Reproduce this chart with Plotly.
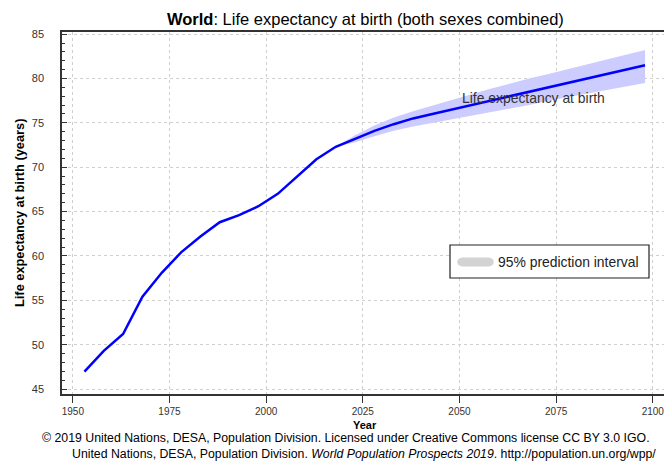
import plotly.graph_objects as go

# ---- data ----
years = [1953, 1958, 1963, 1968, 1973, 1978, 1983, 1988, 1993, 1998,
         2003, 2008, 2013, 2018, 2023, 2028, 2033, 2038, 2043, 2048,
         2053, 2058, 2063, 2068, 2073, 2078, 2083, 2088, 2093, 2098]
life_exp = [46.96, 49.3, 51.2, 55.4, 58.1, 60.4, 62.2, 63.8, 64.6, 65.6,
            67.0, 68.9, 70.9, 72.3, 73.2, 74.1, 74.85, 75.5, 76.0, 76.5,
            77.0, 77.5, 78.0, 78.5, 79.0, 79.5, 80.0, 80.5, 81.0, 81.5]
pi_years = [2018, 2023, 2028, 2033, 2038, 2043, 2048, 2053, 2058, 2063,
            2068, 2073, 2078, 2083, 2088, 2093, 2098]
pi_upper = [72.3, 73.6, 74.7, 75.6, 76.3, 76.95, 77.6, 78.25, 78.85, 79.4,
            80.0, 80.5, 81.05, 81.6, 82.15, 82.7, 83.2]
pi_lower = [72.3, 72.8, 73.5, 74.1, 74.6, 75.0, 75.4, 75.8, 76.2, 76.6,
            77.0, 77.5, 77.9, 78.35, 78.75, 79.1, 79.5]
x_ticks = [1950, 1975, 2000, 2025, 2050, 2075, 2100]
y_ticks = [45, 50, 55, 60, 65, 70, 75, 80, 85]

W, H = 664, 461
ML, MR, MT, MB = 62, 0, 32, 67
PW, PH = W - ML - MR, H - MT - MB
FONT = "Liberation Sans, Arial, sans-serif"


def px(x):
    return (x - ML) / PW


def py(y):
    return (H - MB - y) / PH


fig = go.Figure()
fig.add_trace(go.Scatter(x=pi_years, y=pi_upper, mode="lines",
                         line=dict(width=0), hoverinfo="skip", showlegend=False))
fig.add_trace(go.Scatter(x=pi_years, y=pi_lower, mode="lines", fill="tonexty",
                         fillcolor="#ccccff", line=dict(width=0),
                         hoverinfo="skip", showlegend=False))
fig.add_trace(go.Scatter(x=years, y=life_exp, mode="lines",
                         line=dict(color="#0000ff", width=2.5), showlegend=False))

grid = dict(showgrid=True, gridcolor="#cfcfcf", gridwidth=1, griddash="dot",
            zeroline=False, showline=True, linecolor="#333333", linewidth=1.5)

fig.update_xaxes(range=[1947.2, 2102.9], tickvals=x_ticks, ticks="outside",
                 ticklen=7, tickcolor="#333333", mirror=True,
                 ticklabeloverflow="allow",
                 tickfont=dict(family=FONT, size=10, color="#333333"), **grid)
fig.update_yaxes(range=[44.44, 85.24], tickvals=y_ticks, ticks="inside",
                 ticklen=5, tickcolor="#333333", ticklabelstandoff=14,
                 minor=dict(dtick=1, ticks="inside", ticklen=3,
                            tickcolor="#333333", showgrid=False),
                 tickfont=dict(family=FONT, size=11, color="#333333"), **grid)

ann = []
ann.append(dict(text="<b>World</b>: Life expectancy at birth (both sexes combined)",
                x=px(365), y=py(19), xref="paper", yref="paper",
                xanchor="center", yanchor="middle", showarrow=False,
                font=dict(family=FONT, size=16.5, color="#000000")))
ann.append(dict(text="<b>Life expectancy at birth (years)</b>", textangle=-90,
                x=px(19), y=py(213), xref="paper", yref="paper",
                xanchor="center", yanchor="middle", showarrow=False,
                font=dict(family=FONT, size=12.8, color="#000000")))
ann.append(dict(text="<b>Year</b>", x=px(365), y=py(425), xref="paper", yref="paper",
                xanchor="center", yanchor="middle", showarrow=False,
                font=dict(family=FONT, size=11, color="#000000")))
ann.append(dict(text="© 2019 United Nations, DESA, Population Division. Licensed under Creative Commons license CC BY 3.0 IGO.",
                x=px(40), y=py(438), xref="paper", yref="paper",
                xanchor="left", yanchor="middle", showarrow=False,
                font=dict(family=FONT, size=12.3, color="#000000")))
ann.append(dict(text="United Nations, DESA, Population Division. <i>World Population Prospects 2019</i>. http://population.un.org/wpp/",
                x=px(364), y=py(454), xref="paper", yref="paper",
                xanchor="center", yanchor="middle", showarrow=False,
                font=dict(family=FONT, size=12.3, color="#000000")))
ann.append(dict(text="Life expectancy at birth", x=px(460), y=py(98),
                xref="paper", yref="paper", xanchor="left", yanchor="middle",
                showarrow=False, font=dict(family=FONT, size=13.9, color="#333333")))
ann.append(dict(text="95% prediction interval", x=px(496), y=py(262),
                xref="paper", yref="paper", xanchor="left", yanchor="middle",
                showarrow=False, font=dict(family=FONT, size=13.9, color="#222222")))

shapes = []
shapes.append(dict(type="rect", xref="paper", yref="paper",
                   x0=px(450), x1=px(649), y0=py(278), y1=py(245),
                   line=dict(color="#222222", width=1.2), fillcolor="white",
                   layer="above"))
# legend pill
r = 4.5
w = 35
pill = (f"M {-w/2 + r},{-r} L {w/2 - r},{-r} C {w/2 + r*0.55},{-r} {w/2 + r*0.55},{r} {w/2 - r},{r} "
        f"L {-w/2 + r},{r} C {-w/2 - r*0.55},{r} {-w/2 - r*0.55},{-r} {-w/2 + r},{-r} Z")
shapes.append(dict(type="path", xref="paper", yref="paper", xsizemode="pixel",
                   ysizemode="pixel", xanchor=px(475.5), yanchor=py(262),
                   path=pill, fillcolor="#d3d3d3", line=dict(width=0),
                   layer="above"))

fig.update_layout(width=W, height=H, margin=dict(l=ML, r=MR, t=MT, b=MB),
                  plot_bgcolor="white", paper_bgcolor="white",
                  annotations=ann, shapes=shapes, showlegend=False,
                  font=dict(family=FONT))

fig.write_html("out.html")
